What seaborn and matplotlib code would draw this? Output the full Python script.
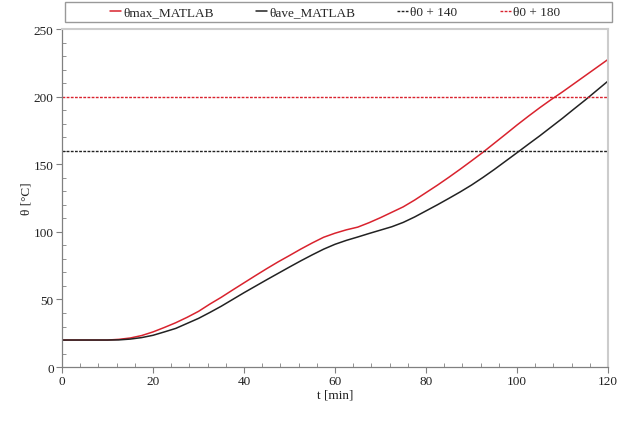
# temperature curves vs time, MATLAB results and limit lines

import numpy as np
import pandas as pd
import matplotlib
matplotlib.use('Agg')
import matplotlib.pyplot as plt
import matplotlib.patches as mpatches
from matplotlib.ticker import MultipleLocator
import seaborn as sns

# data (every 2.5 min)
t_min = [0, 5, 10, 12.5, 15, 17.5, 20, 22.5, 25, 27.5, 30, 32.5, 35, 37.5, 40,
         42.5, 45, 47.5, 50, 52.5, 55, 57.5, 60, 62.5, 65, 67.5, 70, 72.5, 75,
         77.5, 80, 82.5, 85, 87.5, 90, 92.5, 95, 97.5, 100, 102.5, 105, 107.5,
         110, 112.5, 115, 117.5, 120]
theta_max = [20, 20, 20, 20.5, 21.5, 23.3, 26, 29.3, 32.8, 36.8, 41.2, 46.6, 51.6, 57, 62.3,
             67.6, 72.8, 77.8, 82.5, 87.3, 91.8, 96, 99, 101.5, 103.5, 106.8, 110.5, 114.5, 118.5,
             123.5, 129, 134.5, 140.3, 146.3, 152.5, 158.8, 165.5, 172.2, 179, 185.5, 191.8, 197.8,
             203.5, 209.5, 215.5, 221.5, 227.5]
theta_ave = [20, 20, 20, 20.1, 20.7, 21.8, 23.5, 26, 28.6, 32.3, 36, 40.4, 45, 50, 55,
             59.8, 64.6, 69.3, 74, 78.6, 83, 87.2, 90.8, 93.7, 96.2, 98.8, 101.3, 103.8, 107,
             111, 115.5, 120, 124.7, 129.5, 134.6, 140.2, 146.1, 152.3, 158.5, 164.8, 171, 177.5,
             184, 190.8, 197.5, 204.5, 211.5]
theta0 = 20
limit_140 = theta0 + 140
limit_180 = theta0 + 180

df = pd.DataFrame({'t': t_min, 'max': theta_max, 'ave': theta_ave})

sns.set_theme(style='ticks')
plt.rcParams['font.family'] = ['Liberation Serif', 'DejaVu Serif']

red = '#d9232e'
blk = '#222222'

fig = plt.figure(figsize=(6.29, 4.27), dpi=100)
ax = fig.add_axes([0.0986, 0.138, 0.868, 0.7917])

sns.lineplot(data=df, x='t', y='max', ax=ax, color=red, linewidth=1.1, label='θmax_MATLAB')
sns.lineplot(data=df, x='t', y='ave', ax=ax, color=blk, linewidth=1.1, label='θave_MATLAB')
ax.axhline(limit_140, color=blk, linewidth=1.0, linestyle=(0, (2, 1)), label='θ0 + 140')
ax.axhline(limit_180, color=red, linewidth=1.0, linestyle=(0, (2, 1)), label='θ0 + 180')

ax.set_xlim(0, 120)
ax.set_ylim(0, 250)
ax.xaxis.set_major_locator(MultipleLocator(20))
ax.xaxis.set_minor_locator(MultipleLocator(4))
ax.yaxis.set_major_locator(MultipleLocator(50))
ax.yaxis.set_minor_locator(MultipleLocator(10))
ax.tick_params(which='major', direction='out', length=4, width=0.8, colors='#808080',
               labelcolor='#222222', labelsize=9.5, pad=2)
ax.tick_params(which='minor', direction='in', length=3, width=0.6, colors='#808080')

ax.set_xlabel('t [min]', fontsize=9.5, color='#222222', labelpad=1)
ax.set_ylabel('θ [°C]', fontsize=9.5, color='#222222', labelpad=1)

for s in ['left', 'bottom']:
    ax.spines[s].set_color('#808080')
    ax.spines[s].set_linewidth(0.9)
for s in ['top', 'right']:
    ax.spines[s].set_color('#cccccc')
    ax.spines[s].set_linewidth(1.5)

# legend above the plot, in a plain box
leg = ax.legend(loc='center', bbox_to_anchor=(0.5, 1.0503), ncol=4, frameon=False,
                fontsize=9.5, handlelength=0.85, handletextpad=0.15, columnspacing=3.2,
                borderaxespad=0)
box = mpatches.Rectangle((0.0055, 1.021), 1.0018, 0.059, transform=ax.transAxes,
                         fill=False, edgecolor='#999999', linewidth=1.0, clip_on=False)
ax.add_patch(box)

fig.savefig('out.png', dpi=100)
